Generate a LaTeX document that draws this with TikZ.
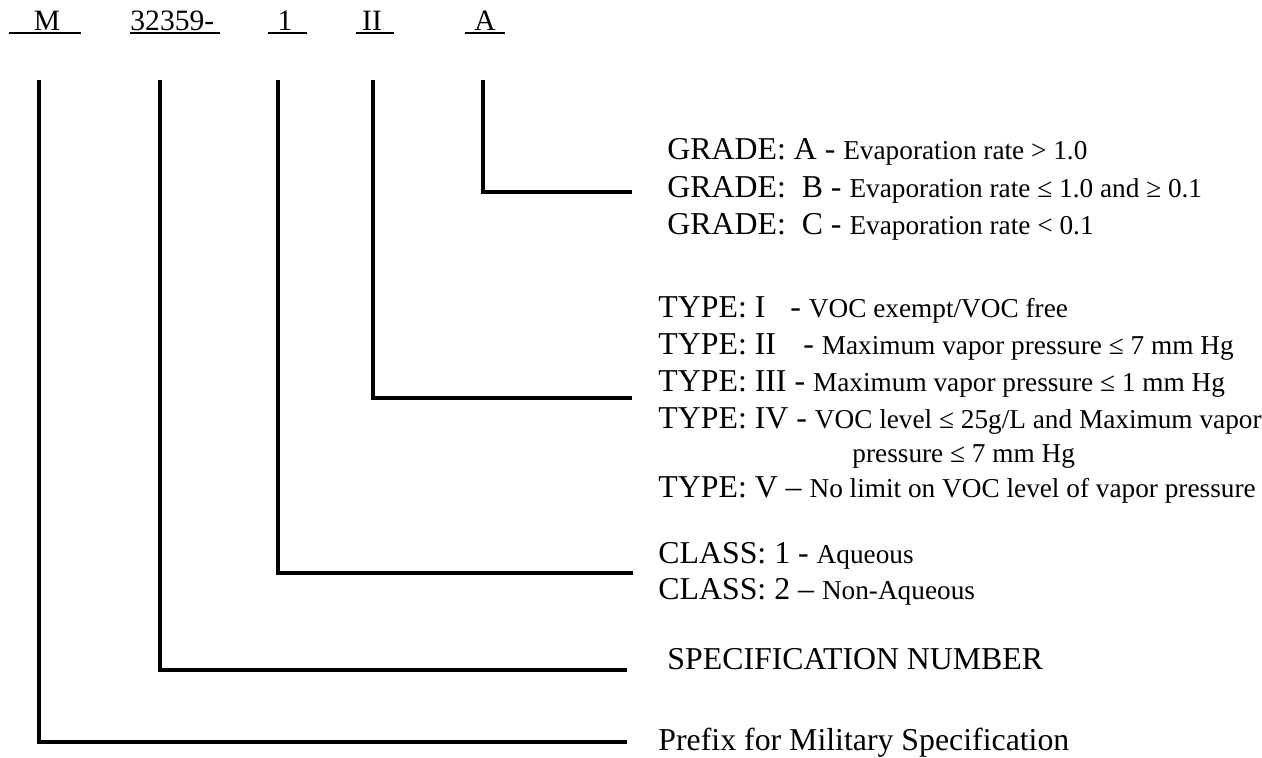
\documentclass[tikz,border=0pt]{standalone}
\usepackage{fontspec}
\setmainfont{Liberation Serif}
\usetikzlibrary{calc}
\newcommand{\bigtxt}{\fontsize{14}{16}\selectfont}
\newcommand{\codetxt}{\fontsize{13}{15}\selectfont}
\newcommand{\smalltxt}{\fontsize{12}{14}\selectfont}
\tikzset{
	code/.style={anchor=base, inner sep=0pt, font=\codetxt},
	descr/.style={anchor=base west, inner sep=0pt, font=\bigtxt},
	uline/.style={line width=0.9pt},
	leader/.style={line width=1.8pt},
}

\begin{document}
\begin{tikzpicture}[x=0.44pt, y=-0.44pt]
			%%%%% START %%%%%
			\useasboundingbox (0,0) rectangle (1262,757);
			
			% designation
			\node[code] (hM) at (47,30) {M};
			\node[code, anchor=base west] (hSpec) at (130,30) {32359-};
			\node[code] (hClass) at (285,30) {1};
			\node[code] (hType) at (372,30) {II};
			\node[code] (hGrade) at (485,30) {A};
			
			\draw[uline] (9,33) -- (81,33);
			\draw[uline] (130,33) -- (220,33);
			\draw[uline] (268,33) -- (307,33);
			\draw[uline] (356,33) -- (394,33);
			\draw[uline] (465,33) -- (505,33);
			
			% grade
			\node[descr] (gradeA) at (667,159) {GRADE: A - {\smalltxt Evaporation rate > 1.0}};
			\node[descr] (gradeB) at (667,197) {GRADE:\ \ B - {\smalltxt Evaporation rate ≤ 1.0 and ≥ 0.1}};
			\node[descr] (gradeC) at (667,234) {GRADE:\ \ C - {\smalltxt Evaporation rate < 0.1}};
			
			% type
			\node[descr] (typeI) at (658,317) {TYPE: I\hspace{7.5pt} - {\smalltxt VOC exempt/VOC free}};
			\node[descr] (typeII) at (658,354) {TYPE: II\hspace{8.5pt} - {\smalltxt Maximum vapor pressure ≤ 7 mm Hg}};
			\node[descr] (typeIII) at (658,391) {TYPE: III - {\smalltxt Maximum vapor pressure ≤ 1 mm Hg}};
			\node[descr] (typeIV) at (658,428) {TYPE: IV - {\smalltxt VOC level ≤ 25g/L and Maximum vapor}};
			\node[descr, font=\smalltxt] (typeIVb) at (852,462) {pressure ≤ 7 mm Hg};
			\node[descr] (typeV) at (658,497) {TYPE: V – {\smalltxt No limit on VOC level of vapor pressure}};
			
			% class
			\node[descr] (classA) at (658,563) {CLASS: 1 - {\smalltxt Aqueous}};
			\node[descr] (classB) at (658,599) {CLASS: 2 – {\smalltxt Non-Aqueous}};
			
			\node[descr] (specnum) at (667,669) {SPECIFICATION NUMBER};
			\node[descr] (prefix) at (658,750) {Prefix for Military Specification};
			
			% leaders
			\coordinate (gradeTop) at (483,80);
			\coordinate (gradeEnd) at (632,192);
			\coordinate (typeTop) at (373,80);
			\coordinate (typeEnd) at (632,398);
			\coordinate (classTop) at (278,80);
			\coordinate (classEnd) at (633,573);
			\coordinate (specTop) at (160,80);
			\coordinate (specEnd) at (627,670);
			\coordinate (prefTop) at (39,80);
			\coordinate (prefEnd) at (627,742);
			
			\draw[leader] (gradeTop) |- (gradeEnd);
			\draw[leader] (typeTop) |- (typeEnd);
			\draw[leader] (classTop) |- (classEnd);
			\draw[leader] (specTop) |- (specEnd);
			\draw[leader] (prefTop) |- (prefEnd);
			
			%%%%% END %%%%%
\end{tikzpicture}
\end{document}
